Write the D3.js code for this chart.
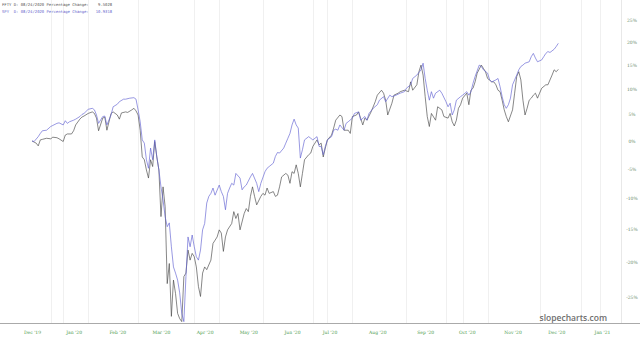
<!DOCTYPE html>
<html>
<head>
<meta charset="utf-8">
<script src="https://cdn.jsdelivr.net/npm/d3@7"></script>
<style>
  body { margin: 0; background: #fff; }
  svg { display: block; }
</style>
</head>
<body>
<svg width="640" height="338"></svg>
<script>
// trading day index (0 = first day of Dec '19), percentage change
var spy = [[0,0],[1,-0.1],[3,0.8],[4,1.4],[5,1.9],[7,2.0],[9,2.7],[10,2.9],[12,3.3],[13,3.4],[15,3.0],[16,3.8],[17,3.3],[18,3.6],[20,3.9],[21,4.1],[23,4.6],[24,5.0],[25,5.2],[27,6.0],[29,6.2],[30,5.9],[31,4.9],[32,3.3],[34,4.6],[35,4.7],[36,3.0],[38,4.9],[39,6.5],[41,7.0],[42,7.5],[44,8.0],[45,8.0],[47,8.2],[49,8.3],[50,8.0],[51,5.9],[52,3.6],[53,0.2],[54,-0.4],[55,-3.4],[56,-4.9],[57,-1.3],[58,-3.4],[59,0.2],[60,-2.9],[61,-5.2],[62,-8.1],[63,-10.3],[64,-13.0],[65,-14.6],[66,-14.0],[67,-17.7],[68,-20.7],[69,-21.6],[70,-22.6],[71,-24.4],[72,-27.2],[73,-28.3],[74,-22.1],[75,-16.2],[76,-17.7],[77,-15.9],[78,-17.7],[79,-19.2],[80,-19.7],[81,-18.2],[82,-15.1],[83,-14.1],[84,-10.8],[85,-9.7],[86,-9.2],[87,-8.3],[88,-9.5],[90,-7.8],[91,-8.9],[92,-9.7],[93,-11.9],[94,-9.2],[95,-8.3],[96,-7.5],[97,-7.8],[98,-5.8],[100,-6.6],[101,-8.6],[102,-8.1],[103,-7.8],[105,-6.4],[106,-5.8],[108,-7.5],[109,-8.9],[110,-7.5],[112,-5.5],[113,-4.9],[114,-4.6],[116,-4.0],[117,-2.8],[118,-2.1],[119,-2.2],[121,-1.3],[122,-0.4],[123,0.5],[124,1.4],[125,3.0],[126,4.1],[127,3.0],[128,2.4],[129,-3.1],[130,-1.6],[131,0.2],[133,0.8],[134,0.5],[135,0.2],[137,0.8],[138,-1.0],[139,-1.0],[140,-2.5],[141,-1.0],[142,0.2],[144,0.8],[145,2.0],[146,2.2],[147,2.0],[148,3.0],[150,2.0],[151,3.3],[152,3.6],[154,4.3],[155,5.2],[157,5.5],[158,3.9],[160,4.6],[161,3.9],[162,5.2],[164,6.2],[166,6.9],[167,7.8],[169,8.5],[170,7.5],[172,8.8],[173,8.5],[175,8.8],[177,9.2],[179,9.5],[180,10.2],[182,10.9],[183,12.2],[185,12.9],[187,14.0],[188,15.4],[189,12.2],[190,9.8],[191,7.8],[192,9.5],[193,8.2],[194,9.2],[196,9.8],[197,9.2],[199,7.5],[200,6.5],[201,7.2],[202,4.9],[203,5.9],[204,7.8],[206,8.5],[207,8.8],[209,9.5],[210,8.8],[211,9.5],[212,11.2],[213,12.6],[215,15.0],[216,14.7],[217,14.0],[219,13.3],[220,11.9],[221,11.5],[223,11.9],[224,12.2],[225,10.5],[226,8.5],[227,6.9],[228,6.2],[229,6.9],[230,8.2],[231,10.9],[233,12.9],[234,14.0],[235,14.7],[236,15.0],[237,15.4],[239,15.7],[240,16.8],[241,17.5],[242,16.5],[243,15.7],[245,16.1],[246,16.8],[247,17.5],[248,17.9],[249,17.7],[251,18.4],[252,19.0],[253,19.7]];

var ffty = [[0,0],[2,-0.4],[3,-0.9],[4,0.2],[5,0.3],[7,0.5],[9,0.4],[10,0.7],[12,0.6],[13,0.4],[15,-0.1],[16,1.1],[17,1.3],[19,1.3],[20,1.9],[21,3.0],[23,4.1],[24,4.5],[25,4.7],[27,5.2],[29,5.5],[30,5.2],[31,4.3],[32,1.9],[34,4.3],[35,4.5],[36,2.0],[38,5.2],[39,5.5],[41,4.9],[42,4.1],[43,5.3],[45,5.5],[46,5.4],[48,5.9],[49,6.2],[50,5.7],[51,4.9],[52,2.0],[53,-2.9],[54,-3.4],[55,-5.2],[56,-6.6],[57,-3.4],[58,-4.6],[59,-0.1],[60,-2.9],[61,-5.2],[62,-13.0],[63,-8.1],[64,-11.4],[65,-23.1],[66,-20.2],[67,-27.6],[68,-22.6],[69,-24.5],[70,-27.2],[71,-27.9],[72,-28.3],[73,-22.1],[74,-21.6],[75,-18.2],[76,-19.7],[77,-18.7],[78,-19.2],[79,-20.7],[80,-23.5],[81,-24.9],[82,-21.6],[83,-20.7],[84,-21.1],[86,-19.7],[87,-17.2],[88,-16.7],[89,-16.2],[90,-15.1],[91,-15.6],[92,-18.4],[93,-16.2],[94,-15.1],[96,-14.1],[97,-12.2],[98,-13.3],[99,-12.5],[100,-15.1],[102,-12.5],[103,-11.7],[104,-12.2],[105,-9.7],[106,-8.1],[107,-9.7],[108,-11.1],[110,-9.7],[111,-9.2],[112,-9.5],[113,-8.3],[114,-9.2],[116,-8.9],[117,-9.7],[118,-9.5],[119,-8.1],[120,-6.4],[122,-5.8],[123,-6.1],[124,-7.5],[125,-5.5],[126,-5.8],[127,-4.3],[128,-5.8],[129,-8.1],[130,-5.8],[131,-3.4],[133,-2.5],[134,-2.2],[135,-1.0],[137,0.2],[138,-0.7],[139,-0.4],[140,-2.9],[141,-1.3],[142,0.2],[144,1.1],[145,2.4],[146,3.9],[148,4.9],[149,4.6],[150,2.0],[151,2.0],[152,2.0],[153,1.4],[154,4.6],[156,4.9],[157,5.5],[159,3.0],[160,4.3],[161,3.9],[163,5.5],[165,7.5],[166,8.8],[168,9.8],[169,9.2],[170,7.8],[171,4.9],[173,7.2],[174,8.8],[176,9.2],[177,9.5],[179,9.8],[181,9.5],[182,11.5],[183,9.8],[185,10.9],[186,13.6],[187,15.0],[188,12.9],[189,8.5],[190,4.6],[191,2.7],[192,5.2],[194,3.9],[195,6.5],[197,5.9],[198,4.6],[200,4.3],[201,5.2],[202,3.6],[203,2.8],[204,3.9],[205,6.2],[206,6.9],[207,8.2],[209,9.2],[210,6.9],[211,9.8],[212,10.2],[213,11.5],[214,13.3],[216,15.0],[217,14.3],[218,13.6],[219,12.2],[221,11.5],[222,11.5],[223,10.9],[224,9.8],[225,9.5],[226,7.8],[227,5.9],[228,4.6],[229,3.6],[231,5.9],[232,9.2],[233,12.6],[234,13.6],[235,11.9],[236,7.8],[237,4.9],[238,6.2],[239,7.8],[240,8.2],[241,8.8],[242,9.2],[243,8.2],[244,9.2],[245,10.2],[247,10.9],[248,10.9],[249,11.9],[250,12.9],[251,14.0],[252,13.6],[253,14.1]];

var monthLabels = ["Dec '19","Jan '20","Feb '20","Mar '20","Apr '20","May '20","Jun '20","Jul '20","Aug '20","Sep '20","Oct '20","Nov '20","Dec '20","Jan '21"];
var monthDays = [0,20,41,62,83,104,125,143,166,189,209,231,252,274];
var pctTicks = [25,20,15,10,5,0,-5,-10,-15,-20,-25];
var gridDays = [9,15,27,51,78,90,111,135,142,154,180,199,207,219,244,264,273];

var titles = [
  {text: "FFTY D: 08/24/2020 Percentage Change:    9.5028", color: "#555"},
  {text: "SPY  D: 08/24/2020 Percentage Change:   10.9318", color: "#6464cc"}
];

var svg = d3.select("svg");

var x = d3.scaleLinear().domain([0, 274]).range([32, 602]);
var y = d3.scaleLog().domain([0.75, 1.25]).range([297.2, 19.8]);

// vertical grid
svg.selectAll("line.grid").data(gridDays).enter()
  .append("line")
  .attr("class", "grid")
  .attr("x1", function(d) { return Math.round(x(d)) + 0.5 })
  .attr("x2", function(d) { return Math.round(x(d)) + 0.5 })
  .attr("y1", 0)
  .attr("y2", 323)
  .style("stroke", "#f0f0f0")
  .style("stroke-width", 1);

// right border
svg.append("line")
  .attr("x1", 621.5).attr("x2", 621.5)
  .attr("y1", 0).attr("y2", 323)
  .style("stroke", "#e8e8e8");

// bottom axis line
svg.append("line")
  .attr("x1", 0).attr("x2", 640)
  .attr("y1", 323.5).attr("y2", 323.5)
  .style("stroke", "#aaa")
  .style("stroke-width", 1);

// x axis labels
var xAxis = d3.axisBottom(x)
  .tickValues(monthDays)
  .tickFormat(function(d, i) { return monthLabels[i] })
  .tickSize(0);
var gx = svg.append("g").attr("transform", "translate(0,328)").call(xAxis);
gx.select(".domain").remove();
gx.selectAll("text")
  .attr("font-family", "DejaVu Serif")
  .attr("font-size", "4.5")
  .style("fill", "#4a9a4a");

// y axis labels (right)
var yAxis = d3.axisRight(y)
  .tickValues(pctTicks.map(function(d) { return 1 + d / 100 }))
  .tickFormat(function(d) { return Math.round((d - 1) * 100) + "%" })
  .tickSize(0)
  .tickPadding(0);
var gy = svg.append("g").attr("transform", "translate(632,0)").call(yAxis);
gy.select(".domain").remove();
gy.selectAll("text")
  .attr("text-anchor", "middle")
  .attr("font-family", "DejaVu Serif")
  .attr("font-size", "4.5")
  .style("fill", "#6a8a6a");

var line = d3.line()
  .x(function(d) { return x(d[0]) })
  .y(function(d) { return y(1 + d[1] / 100) });

svg.append("path")
  .datum(ffty)
  .attr("d", line)
  .style("fill", "none")
  .style("stroke", "#454545")
  .style("stroke-width", 0.65);

svg.append("path")
  .datum(spy)
  .attr("d", line)
  .style("fill", "none")
  .style("stroke", "#6262d2")
  .style("stroke-width", 0.65);

// header text
svg.selectAll("text.title").data(titles).enter()
  .append("text")
  .attr("class", "title")
  .attr("x", 2)
  .attr("y", function(d, i) { return 6 + i * 7 })
  .attr("font-family", "DejaVu Sans Mono")
  .attr("font-size", "3.9")
  .attr("xml:space", "preserve")
  .style("white-space", "pre")
  .style("fill", function(d) { return d.color })
  .text(function(d) { return d.text });

// watermark
svg.append("text")
  .attr("x", 607)
  .attr("y", 321)
  .attr("text-anchor", "end")
  .attr("font-family", "Open Sans")
  .attr("font-weight", "600")
  .attr("font-size", "8.5")
  .style("fill", "#6e6e6e")
  .text("slopecharts.com");
</script>
</body>
</html>
